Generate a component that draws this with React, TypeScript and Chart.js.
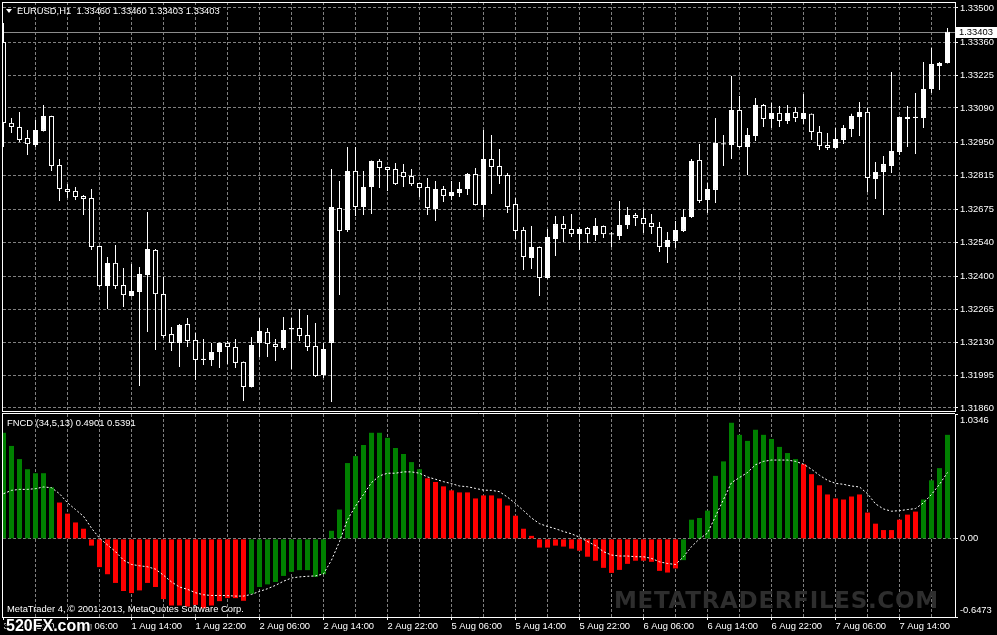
import React, { useEffect, useRef } from 'react';
import { Chart, registerables } from 'chart.js';

Chart.register(...registerables);

// ---------- DATA ----------
const opens = [
  1.33361, 1.33029, 1.33012, 1.32967, 1.32938, 1.32996, 1.33057, 1.32856, 1.32758, 1.3275,
  1.32729, 1.32721, 1.32524, 1.3236, 1.32455, 1.32364, 1.32319, 1.32336, 1.32405, 1.32508,
  1.32327, 1.32163, 1.32127, 1.32204, 1.32139, 1.32062, 1.32057, 1.3209, 1.32127, 1.3211,
  1.32049, 1.31946, 1.32127, 1.32172, 1.32122, 1.32106, 1.32182, 1.32188, 1.32159, 1.32114,
  1.31995, 1.32127, 1.3268, 1.3259, 1.32832, 1.32684, 1.32766, 1.32873, 1.32848, 1.3284,
  1.32828, 1.32811, 1.32782, 1.32766, 1.32676, 1.32758, 1.32729, 1.32742, 1.32758, 1.32819,
  1.32692, 1.32881, 1.32852, 1.32815, 1.32696, 1.3259, 1.32475, 1.3252, 1.32393, 1.32553,
  1.32614, 1.32594, 1.32573, 1.32598, 1.32569, 1.32606, 1.32576, 1.32565, 1.3261, 1.32651,
  1.32639, 1.32618, 1.32602, 1.3252, 1.32545, 1.32586, 1.32643, 1.32877, 1.32713, 1.32754,
  1.3294, 1.32938, 1.33082, 1.3293, 1.32975, 1.33102, 1.33045, 1.3307, 1.33037, 1.33074,
  1.33045, 1.33066, 1.32992, 1.32938, 1.32926, 1.32959, 1.33004, 1.33053, 1.33074, 1.32799,
  1.32828, 1.32852, 1.3291, 1.33053, 1.33049, 1.33049, 1.33168, 1.33262, 1.33275,
];
const highs = [
  1.33439, 1.33049, 1.33074, 1.33, 1.33041, 1.33102, 1.33058, 1.32881, 1.32778, 1.32766,
  1.32733, 1.32758, 1.32526, 1.32479, 1.32528, 1.32434, 1.3245, 1.32438, 1.32664, 1.32512,
  1.32397, 1.32192, 1.32204, 1.32229, 1.32168, 1.32143, 1.32127, 1.32129, 1.32135, 1.32143,
  1.32051, 1.32151, 1.32229, 1.32188, 1.32143, 1.32233, 1.32229, 1.32266, 1.32241, 1.32209,
  1.32127, 1.3284, 1.32791, 1.3293, 1.3293, 1.32832, 1.32875, 1.32881, 1.32849, 1.32865,
  1.3286, 1.3284, 1.32783, 1.32803, 1.32791, 1.3277, 1.32791, 1.32787, 1.32824, 1.32844,
  1.33, 1.32979, 1.32922, 1.32824, 1.32721, 1.32602, 1.32606, 1.32522, 1.32594, 1.32647,
  1.32647, 1.32655, 1.32602, 1.32602, 1.32639, 1.32608, 1.32582, 1.32709, 1.32684, 1.3266,
  1.32676, 1.32655, 1.32623, 1.32582, 1.32627, 1.32676, 1.32881, 1.32942, 1.32783, 1.33049,
  1.32979, 1.33221, 1.33139, 1.33008, 1.33131, 1.33106, 1.3311, 1.33098, 1.33102, 1.33094,
  1.33147, 1.33067, 1.33016, 1.32988, 1.33008, 1.3302, 1.33066, 1.33115, 1.3309, 1.32869,
  1.32893, 1.33238, 1.33055, 1.33098, 1.33151, 1.33279, 1.33336, 1.33279, 1.33418,
];
const lows = [
  1.3293, 1.32988, 1.32951, 1.32897, 1.3293, 1.32994, 1.32832, 1.32709, 1.32721, 1.32713,
  1.32651, 1.32508, 1.32356, 1.32266, 1.32348, 1.32274, 1.32317, 1.3195, 1.32172, 1.32098,
  1.32147, 1.32094, 1.32028, 1.3211, 1.31975, 1.32036, 1.32032, 1.32024, 1.3204, 1.32024,
  1.31889, 1.31944, 1.32069, 1.32069, 1.32053, 1.32098, 1.3202, 1.32135, 1.32094, 1.31987,
  1.31983, 1.31885, 1.32323, 1.32582, 1.32647, 1.32651, 1.32655, 1.32762, 1.3275, 1.32774,
  1.32766, 1.3277, 1.32725, 1.32651, 1.32627, 1.32705, 1.32713, 1.32725, 1.32733, 1.3269,
  1.32643, 1.32737, 1.32778, 1.3266, 1.32553, 1.32426, 1.3243, 1.32319, 1.3239, 1.32483,
  1.32541, 1.32561, 1.32508, 1.32537, 1.32545, 1.32557, 1.3252, 1.32549, 1.32594, 1.32606,
  1.32578, 1.32573, 1.325, 1.32455, 1.32516, 1.32582, 1.32639, 1.32701, 1.3266, 1.32701,
  1.32852, 1.32881, 1.32926, 1.32815, 1.32955, 1.33012, 1.33008, 1.33012, 1.33024, 1.33033,
  1.33024, 1.32959, 1.32918, 1.32918, 1.32922, 1.32942, 1.32971, 1.32975, 1.32746, 1.32717,
  1.32651, 1.32824, 1.32897, 1.3293, 1.32901, 1.33008, 1.33151, 1.33164, 1.33272,
];
const closes = [
  1.33029, 1.33012, 1.32959, 1.32942, 1.33, 1.33057, 1.32852, 1.32758, 1.32746, 1.32725,
  1.32717, 1.3252, 1.3236, 1.32455, 1.3236, 1.32323, 1.3234, 1.32409, 1.32512, 1.32327,
  1.32155, 1.32127, 1.322, 1.32135, 1.32057, 1.32057, 1.3209, 1.32127, 1.3211, 1.32045,
  1.31946, 1.32118, 1.32176, 1.32122, 1.3211, 1.3218, 1.32188, 1.32155, 1.3211, 1.31991,
  1.32102, 1.32684, 1.32586, 1.32832, 1.32684, 1.32766, 1.32873, 1.32844, 1.32836, 1.32778,
  1.32807, 1.32778, 1.32762, 1.3268, 1.32758, 1.32729, 1.32746, 1.32758, 1.32819, 1.32692,
  1.32881, 1.32848, 1.32811, 1.32684, 1.32586, 1.32479, 1.3252, 1.32393, 1.32561, 1.32614,
  1.32594, 1.32573, 1.32594, 1.32573, 1.32606, 1.32573, 1.32571, 1.3261, 1.32651, 1.32639,
  1.32614, 1.32602, 1.3252, 1.32549, 1.3259, 1.32643, 1.32873, 1.32709, 1.32758, 1.32947,
  1.32945, 1.33082, 1.3293, 1.32979, 1.33102, 1.33045, 1.3307, 1.33037, 1.3307, 1.33049,
  1.3307, 1.32992, 1.32934, 1.32926, 1.32963, 1.33008, 1.33057, 1.33074, 1.32803, 1.32828,
  1.3286, 1.32914, 1.33053, 1.33045, 1.33054, 1.33168, 1.3327, 1.33275, 1.33403,
];

const fncdHist = [
  0.879, 0.77, 0.661, 0.577, 0.544, 0.544, 0.427, 0.301, 0.209, 0.136,
  0.084, -0.056, -0.234, -0.293, -0.365, -0.432, -0.449, -0.427, -0.365, -0.399,
  -0.499, -0.552, -0.552, -0.561, -0.547, -0.575, -0.552, -0.516, -0.491, -0.491,
  -0.513, -0.455, -0.399, -0.377, -0.357, -0.307, -0.273, -0.259, -0.259, -0.315,
  -0.293, 0.067, 0.243, 0.628, 0.686, 0.778, 0.879, 0.879, 0.837, 0.753,
  0.703, 0.636, 0.577, 0.502, 0.471, 0.435, 0.402, 0.385, 0.385, 0.335,
  0.36, 0.36, 0.335, 0.276, 0.192, 0.084, 0.025, -0.072, -0.072, -0.056,
  -0.064, -0.081, -0.098, -0.148, -0.181, -0.24, -0.282, -0.257, -0.207, -0.181,
  -0.181, -0.19, -0.265, -0.279, -0.245, -0.176, 0.159, 0.173, 0.234, 0.522,
  0.642, 0.962, 0.862, 0.812, 0.904, 0.862, 0.828, 0.762, 0.711, 0.661,
  0.619, 0.536, 0.444, 0.368, 0.335, 0.326, 0.351, 0.368, 0.218, 0.126,
  0.073, 0.073, 0.159, 0.201, 0.226, 0.326, 0.485, 0.586, 0.862,
];
const fncdSignal = [
  0.374, 0.402, 0.41, 0.41, 0.416, 0.43, 0.424, 0.374, 0.299, 0.243,
  0.187, 0.089, 0.006, -0.05, -0.106, -0.176, -0.212, -0.223, -0.231, -0.251,
  -0.301, -0.357, -0.399, -0.418, -0.446, -0.463, -0.469, -0.469, -0.47, -0.474,
  -0.474, -0.46, -0.435, -0.413, -0.385, -0.351, -0.324, -0.315, -0.31, -0.307,
  -0.29, -0.176, -0.022, 0.159, 0.271, 0.368, 0.466, 0.522, 0.544, 0.544,
  0.555, 0.555, 0.544, 0.513, 0.494, 0.474, 0.458, 0.438, 0.432, 0.418,
  0.404, 0.402, 0.391, 0.346, 0.293, 0.234, 0.173, 0.126, 0.103, 0.084,
  0.061, 0.042, 0.014, -0.022, -0.056, -0.106, -0.134, -0.142, -0.142, -0.148,
  -0.148, -0.162, -0.19, -0.204, -0.212, -0.148, -0.064, 0.0, 0.048, 0.187,
  0.326, 0.466, 0.508, 0.55, 0.614, 0.642, 0.653, 0.653, 0.653, 0.642,
  0.619, 0.577, 0.527, 0.485, 0.46, 0.452, 0.438, 0.43, 0.374, 0.29,
  0.248, 0.229, 0.234, 0.243, 0.251, 0.299, 0.368, 0.452, 0.55,
];
// colour state of the histogram (up-buffer / down-buffer), as runs of bars
const fncdColorRuns: [string, number][] = [
  ['up', 7], ['down', 24], ['up', 22], ['down', 32], ['up', 15], ['down', 15], ['up', 4],
];

const timeLabels = [
  '31 Jul 22:00', '1 Aug 06:00', '1 Aug 14:00', '1 Aug 22:00', '2 Aug 06:00',
  '2 Aug 14:00', '2 Aug 22:00', '5 Aug 06:00', '5 Aug 14:00', '5 Aug 22:00',
  '6 Aug 06:00', '6 Aug 14:00', '6 Aug 22:00', '7 Aug 06:00', '7 Aug 14:00',
];
const barsPerLabel = 8;
const barsPerGrid = 4;

const priceAxisLabels = [
  '1.33500', '1.33360', '1.33225', '1.33090', '1.32950', '1.32815', '1.32675',
  '1.32540', '1.32400', '1.32265', '1.32130', '1.31995', '1.31860',
];
const fncdAxisLabels = ['1.0346', '0.00', '-0.6473'];

const titleText = 'EURUSD,H1  1.33460 1.33460 1.33403 1.33403';
const fncdTitle = 'FNCD (34,5,13) 0.4901 0.5391';
const copyrightText = 'MetaTrader 4, \u00A9 2001-2013, MetaQuotes Software Corp.';

// ---------- STYLE ----------
const GRID = '#808080';
const WHITE = '#ffffff';
const UP_COLOR = '#008000';
const DOWN_COLOR = '#ff0000';
const FONT_FAMILY = '"Liberation Sans", Arial, sans-serif';
const FONT_SIZE = 9.4;
const AXIS_W = 42;

const fncdStates: string[] = fncdColorRuns.flatMap(([s, n]) => Array(n).fill(s));
const barCount = opens.length;

// main pane scale: label span of 400px, pane extends 6px above top label and 3px below bottom label
const pTop = parseFloat(priceAxisLabels[0]);
const pBot = parseFloat(priceAxisLabels[priceAxisLabels.length - 1]);
const pxPerUnit = 400 / (pTop - pBot);
const priceMax = pTop + 6 / pxPerUnit;
const priceMin = pBot - 3 / pxPerUnit;
const fncdMax = parseFloat(fncdAxisLabels[0]);
const fncdMin = parseFloat(fncdAxisLabels[2]);

const tickFont = { family: FONT_FAMILY, size: FONT_SIZE };

function xScale(showLabels: boolean): any {
  return {
    type: 'linear',
    min: -0.0625,
    max: barCount - 0.0625,
    offset: false,
    afterBuildTicks: (s: any) => {
      const t: any[] = [];
      for (let v = 0; v < barCount - 1; v += barsPerGrid) t.push({ value: v });
      s.ticks = t;
    },
    afterFit: (s: any) => {
      s.height = showLabels ? 18 : 0;
      s.paddingLeft = 0;
      s.paddingRight = 0;
    },
    grid: {
      offset: false,
      lineWidth: 1,
      color: (c: any) => (c.tick && c.tick.value === 0 ? 'rgba(0,0,0,0)' : GRID),
      drawTicks: showLabels,
      tickLength: 3,
      tickColor: (c: any) => (c.tick && c.tick.value % barsPerLabel === 0 ? WHITE : 'rgba(0,0,0,0)'),
      tickBorderDash: [],
    },
    border: { display: showLabels, color: WHITE, width: 1, dash: [3, 2] },
    ticks: {
      display: showLabels,
      autoSkip: false,
      maxRotation: 0,
      minRotation: 0,
      align: 'start',
      padding: 1,
      color: WHITE,
      font: tickFont,
      callback: (v: number) => (v % barsPerLabel === 0 ? timeLabels[v / barsPerLabel] ?? '' : ''),
    },
  };
}

const framePlugin = {
  id: 'paneFrame',
  afterDraw(chart: any, _a: any, opts: any) {
    const { ctx, chartArea: a } = chart;
    ctx.save();
    ctx.strokeStyle = WHITE;
    ctx.lineWidth = 1;
    ctx.setLineDash([]);
    ctx.beginPath();
    const topY = opts.topInside ? a.top + 0.5 : a.top - 0.5;
    ctx.moveTo(a.left - 1, topY);
    ctx.lineTo(a.right, topY);
    ctx.moveTo(a.left - 0.5, a.top);
    ctx.lineTo(a.left - 0.5, a.bottom + 1);
    if (opts.bottom) {
      ctx.moveTo(a.left - 1, a.bottom + 0.5);
      ctx.lineTo(a.right + 1, a.bottom + 0.5);
    }
    ctx.stroke();
    ctx.restore();
  },
};

const lastPricePlugin = {
  id: 'lastPrice',
  beforeDatasetsDraw(chart: any) {
    const { ctx, chartArea: a } = chart;
    const y = Math.round(chart.scales.y.getPixelForValue(closes[closes.length - 1])) + 0.5;
    ctx.save();
    ctx.strokeStyle = '#8c8c8c';
    ctx.lineWidth = 1;
    ctx.beginPath();
    ctx.moveTo(a.left, y);
    ctx.lineTo(a.right, y);
    ctx.stroke();
    ctx.restore();
  },
  afterDraw(chart: any) {
    const { ctx, chartArea: a } = chart;
    const last = closes[closes.length - 1];
    const y = Math.round(chart.scales.y.getPixelForValue(last));
    ctx.save();
    ctx.fillStyle = WHITE;
    ctx.fillRect(a.right + 1, y - 5, 41, 11);
    ctx.fillStyle = '#000';
    ctx.font = `${FONT_SIZE}px ${FONT_FAMILY}`;
    ctx.textBaseline = 'middle';
    ctx.textAlign = 'left';
    ctx.fillText(last.toFixed(5), a.right + 4, y + 0.5);
    ctx.restore();
  },
};

export default function App() {
  const mainRef = useRef<HTMLCanvasElement>(null);
  const subRef = useRef<HTMLCanvasElement>(null);

  useEffect(() => {
    const wickData = opens.map((_, i) => ({ x: i, y: [lows[i], highs[i]] }));
    const bodyData = opens.map((o, i) => ({ x: i, y: [o, closes[i]] }));

    const main = new Chart(mainRef.current as HTMLCanvasElement, {
      type: 'bar',
      data: {
        datasets: [
          {
            data: wickData as any,
            backgroundColor: WHITE,
            borderWidth: 0,
            barThickness: 1,
            grouped: false,
            inflateAmount: 0,
            order: 2,
          } as any,
          {
            data: bodyData as any,
            backgroundColor: opens.map((o, i) => (closes[i] >= o ? WHITE : '#000000')),
            borderColor: WHITE,
            borderWidth: 1,
            borderSkipped: false,
            barThickness: 5,
            grouped: false,
            inflateAmount: 0,
            order: 1,
          } as any,
        ],
      },
      options: {
        responsive: false,
        animation: false,
        devicePixelRatio: 1,
        events: [],
        layout: { padding: { left: 3, top: 2, right: 0, bottom: 1 } },
        plugins: {
          legend: { display: false },
          tooltip: { enabled: false },
          paneFrame: { bottom: true, topInside: true },
        } as any,
        scales: {
          x: xScale(false),
          y: {
            type: 'linear',
            position: 'right',
            min: priceMin,
            max: priceMax,
            afterBuildTicks: (s: any) => {
              s.ticks = priceAxisLabels
                .map((l) => ({ value: parseFloat(l) }))
                .sort((p, q) => p.value - q.value);
            },
            afterFit: (s: any) => {
              s.width = AXIS_W;
              s.paddingTop = 0;
              s.paddingBottom = 0;
            },
            grid: {
              color: GRID,
              lineWidth: 1,
              drawTicks: true,
              tickLength: 3,
              tickColor: WHITE,
              tickBorderDash: [],
            },
            border: { display: true, color: WHITE, width: 1, dash: [3, 2] },
            ticks: {
              autoSkip: false,
              color: WHITE,
              padding: 2,
              font: tickFont,
              callback: (v: number) =>
                priceAxisLabels.find((l) => Math.abs(parseFloat(l) - v) < 1e-7) ?? '',
            },
          } as any,
        },
      },
      plugins: [framePlugin, lastPricePlugin],
    });

    const histData = fncdHist.map((v, i) => ({ x: i, y: v }));
    const sigData = fncdSignal.map((v, i) => ({ x: i, y: v }));

    const sub = new Chart(subRef.current as HTMLCanvasElement, {
      type: 'bar',
      data: {
        datasets: [
          {
            type: 'bar',
            data: histData as any,
            backgroundColor: fncdStates.map((s) => (s === 'up' ? UP_COLOR : DOWN_COLOR)),
            borderWidth: 0,
            barThickness: 5,
            grouped: false,
            inflateAmount: 0,
            order: 2,
          } as any,
          {
            type: 'line',
            data: sigData as any,
            borderColor: WHITE,
            borderWidth: 1,
            borderDash: [2, 2],
            pointRadius: 0,
            tension: 0,
            fill: false,
            order: 1,
          } as any,
        ],
      },
      options: {
        responsive: false,
        animation: false,
        devicePixelRatio: 1,
        events: [],
        layout: { padding: { left: 3, top: 2, right: 0, bottom: 0 } },
        plugins: {
          legend: { display: false },
          tooltip: { enabled: false },
          paneFrame: { bottom: false, topInside: false },
        } as any,
        scales: {
          x: xScale(true),
          y: {
            type: 'linear',
            position: 'right',
            min: fncdMin,
            max: fncdMax,
            afterBuildTicks: (s: any) => {
              s.ticks = [{ value: fncdMin }, { value: 0 }, { value: fncdMax }];
            },
            afterFit: (s: any) => {
              s.width = AXIS_W;
              s.paddingTop = 0;
              s.paddingBottom = 0;
            },
            grid: {
              color: (c: any) => (c.tick && c.tick.value === 0 ? GRID : 'rgba(0,0,0,0)'),
              lineWidth: 1,
              drawTicks: true,
              tickLength: 3,
              tickColor: WHITE,
              tickBorderDash: [],
            },
            border: { display: true, color: WHITE, width: 1, dash: [3, 2] },
            ticks: {
              autoSkip: false,
              color: WHITE,
              padding: 2,
              font: { family: FONT_FAMILY, size: FONT_SIZE, lineHeight: 1.45 },
              callback: (v: number) => {
                if (v === fncdMax) return ['', fncdAxisLabels[0]];
                if (v === fncdMin) return [fncdAxisLabels[2], ''];
                return fncdAxisLabels[1];
              },
            },
          } as any,
        },
      },
      plugins: [framePlugin],
    });

    return () => {
      main.destroy();
      sub.destroy();
    };
  }, []);

  const textStyle: React.CSSProperties = {
    position: 'absolute',
    color: WHITE,
    fontFamily: FONT_FAMILY,
    fontSize: FONT_SIZE,
    lineHeight: '12px',
    whiteSpace: 'pre',
  };

  return (
    <div
      style={{
        position: 'fixed',
        left: 0,
        top: 0,
        width: 997,
        height: 635,
        background: '#000',
        overflow: 'hidden',
      }}
    >
      <canvas
        ref={mainRef}
        width={997}
        height={412}
        style={{ position: 'absolute', left: 0, top: 0, width: 997, height: 412 }}
      />
      <canvas
        ref={subRef}
        width={997}
        height={223}
        style={{ position: 'absolute', left: 0, top: 412, width: 997, height: 223 }}
      />
      <div
        style={{
          position: 'absolute',
          left: 6,
          top: 9,
          width: 0,
          height: 0,
          borderLeft: '3.5px solid transparent',
          borderRight: '3.5px solid transparent',
          borderTop: '4px solid #fff',
        }}
      />
      <div style={{ ...textStyle, left: 17, top: 5 }}>{titleText}</div>
      <div style={{ ...textStyle, left: 7, top: 416.5 }}>{fncdTitle}</div>
      <div style={{ ...textStyle, left: 7, top: 603 }}>{copyrightText}</div>
      <div
        style={{
          position: 'absolute',
          left: 614,
          top: 589,
          fontFamily: '"DejaVu Sans", sans-serif',
          fontWeight: 'bold',
          fontSize: 23,
          lineHeight: 1,
          letterSpacing: 0.7,
          color: '#2e2e2e',
          whiteSpace: 'pre',
        }}
      >
        METATRADERFILES.COM
      </div>
      <div
        style={{
          position: 'absolute',
          left: 6,
          top: 618,
          fontFamily: FONT_FAMILY,
          fontWeight: 'bold',
          fontSize: 16,
          lineHeight: 1,
          color: WHITE,
          whiteSpace: 'pre',
          textShadow: '1px 1px 0 #000, -1px -1px 0 #000, 1px -1px 0 #000, -1px 1px 0 #000',
        }}
      >
        520FX.com
      </div>
    </div>
  );
}
